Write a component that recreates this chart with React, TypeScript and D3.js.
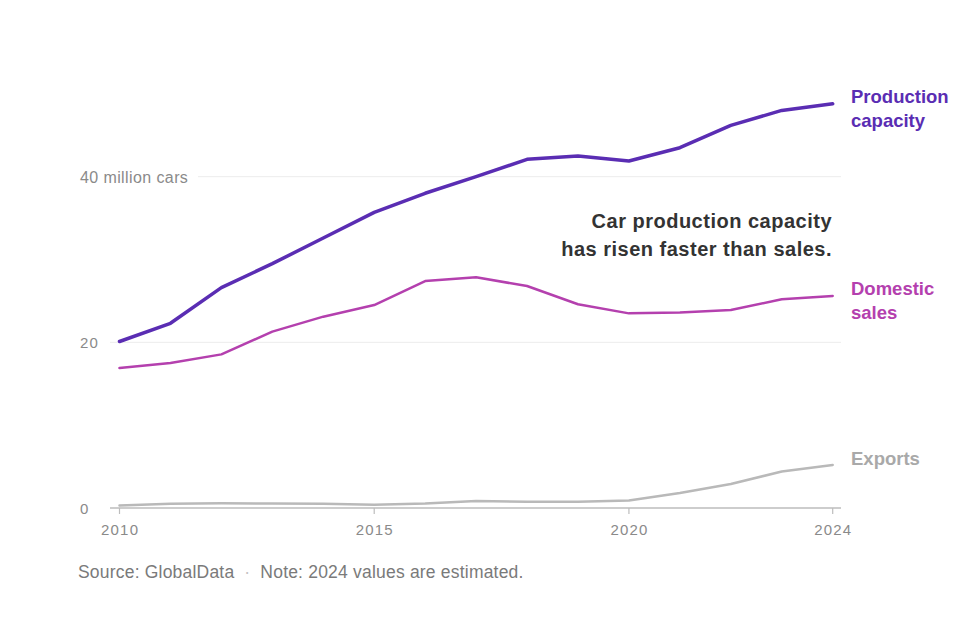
import React from "react";
import * as d3 from "d3";

const years = [2010, 2011, 2012, 2013, 2014, 2015, 2016, 2017, 2018, 2019, 2020, 2021, 2022, 2023, 2024];
const productionCapacity = [20.1, 22.3, 26.6, 29.5, 32.6, 35.7, 38.0, 40.0, 42.1, 42.5, 41.9, 43.5, 46.2, 48.0, 48.8];
const domesticSales = [16.9, 17.5, 18.55, 21.3, 23.1, 24.5, 27.4, 27.85, 26.8, 24.6, 23.5, 23.6, 23.9, 25.2, 25.6];
const exportsSeries = [0.3, 0.5, 0.57, 0.55, 0.5, 0.4, 0.55, 0.85, 0.75, 0.75, 0.9, 1.8, 2.9, 4.4, 5.2];
const yTicks = [0, 20, 40];
const xTicks = [2010, 2015, 2020, 2024];

const FONT = "'Liberation Sans', Arial, sans-serif";

export default function App() {
  const width = 975;
  const height = 617;
  const x = d3.scaleLinear().domain([2010, 2024]).range([119.5, 832.7]);
  const y = d3.scaleLinear().domain([0, 40]).range([508, 176.7]);

  const line = (vals: number[]) =>
    d3.line<number>().x((_, i) => x(years[i])).y((v) => y(v))(vals) || "";

  const series = [
    { vals: exportsSeries, color: "#b9b9b9", w: 2.5 },
    { vals: domesticSales, color: "#b440ae", w: 2.5 },
    { vals: productionCapacity, color: "#5a2db3", w: 3.5 },
  ];

  return (
    <svg width={width} height={height} style={{ position: "absolute", left: 0, top: 0, background: "#fff" }}>
      {yTicks.map((t) => {
        const x0 = t === 40 ? 198 : 110;
        return (
          <line key={t} x1={x0} x2={841} y1={y(t)} y2={y(t)} stroke={t === 0 ? "#bdbdbd" : "#ececec"} strokeWidth={t === 0 ? 1.5 : 1} />
        );
      })}
      {yTicks.map((t) => (
        <text
          key={"l" + t}
          x={80}
          y={y(t) + 6}
          fontFamily={FONT}
          fontSize={t === 40 ? 16 : 15}
          letterSpacing={t === 40 ? 0.4 : 1.2}
          fill="#8a8a8a"
        >
          {t === 40 ? "40 million cars" : String(t)}
        </text>
      ))}
      {xTicks.map((t) => (
        <g key={t}>
          <line x1={x(t)} x2={x(t)} y1={y(0)} y2={y(0) + 6} stroke="#bdbdbd" strokeWidth={1.2} />
          <text x={x(t) + 0.6} y={535} textAnchor="middle" fontFamily={FONT} fontSize={15} letterSpacing={1.2} fill="#8a8a8a">
            {t}
          </text>
        </g>
      ))}
      {series.map((s, i) => (
        <path key={i} d={line(s.vals)} fill="none" stroke={s.color} strokeWidth={s.w} strokeLinejoin="round" strokeLinecap="round" />
      ))}
      <text x={851} y={103} fontFamily={FONT} fontSize={18.5} fontWeight="bold" fill="#5a2db3">Production</text>
      <text x={851} y={127} fontFamily={FONT} fontSize={18.5} fontWeight="bold" fill="#5a2db3">capacity</text>
      <text x={851} y={295} fontFamily={FONT} fontSize={18.5} fontWeight="bold" fill="#b440ae">Domestic</text>
      <text x={851} y={318.5} fontFamily={FONT} fontSize={18.5} fontWeight="bold" fill="#b440ae">sales</text>
      <text x={851} y={465} fontFamily={FONT} fontSize={18.5} fontWeight="bold" fill="#a9a9a9">Exports</text>
      <text x={832} y={228} textAnchor="end" fontFamily={FONT} fontSize={20} letterSpacing={0.5} fontWeight="bold" fill="#333">Car production capacity</text>
      <text x={832} y={255.5} textAnchor="end" fontFamily={FONT} fontSize={20} letterSpacing={0.5} fontWeight="bold" fill="#333">has risen faster than sales.</text>
      <text x={78} y={578} fontFamily={FONT} fontSize={17.5} letterSpacing={0.2} fill="#7a7a7a">
        Source: GlobalData
        <tspan fill="#c4c4c4" dx={10}>·</tspan>
        <tspan dx={10}>Note: 2024 values are estimated.</tspan>
      </text>
    </svg>
  );
}
